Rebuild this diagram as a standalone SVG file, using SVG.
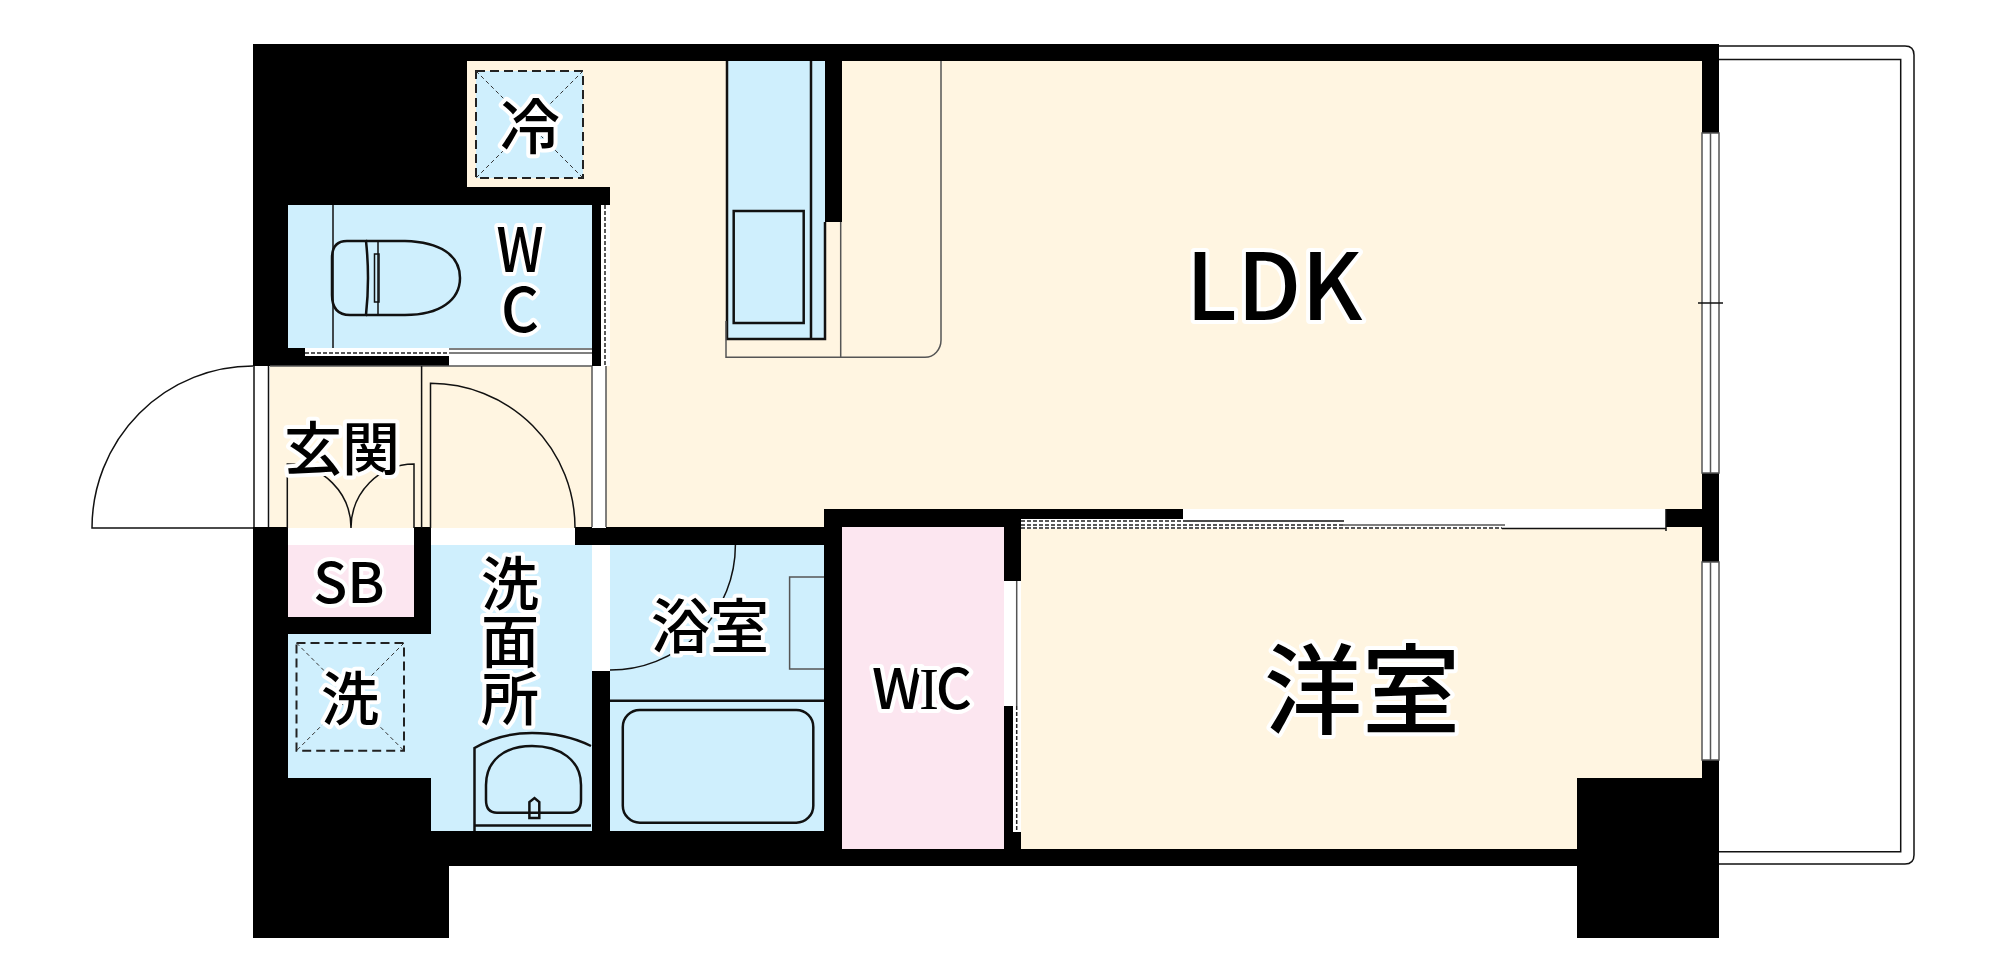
<svg xmlns="http://www.w3.org/2000/svg" width="1998" height="974" viewBox="0 0 1998 974">
<style>
.b{fill:#fff5e1}.c{fill:#cfeffd}.p{fill:#fce6f0}.k{fill:#000}.w{fill:#fff}
.l{fill:none;stroke:#111;stroke-width:1.5}
.g{fill:none;stroke:#555;stroke-width:1.5}
.m{fill:none;stroke:#111;stroke-width:2.5}
.d{fill:none;stroke:#222;stroke-width:2;stroke-dasharray:9 5}
.x{fill:none;stroke:#333;stroke-width:1;stroke-dasharray:4 3}
.f{fill:none;stroke:#222;stroke-width:1.5;stroke-dasharray:4 2}
text{font-family:"Noto Sans CJK JP","Noto Sans",sans-serif;font-weight:500;fill:#000;stroke:#fff;stroke-width:8;paint-order:stroke;stroke-linejoin:round;text-anchor:middle}
.t56{font-size:58px}
</style>
<rect width="1998" height="974" fill="#fff"/>
<g id="balcony">
<path class="l" d="M1719 46H1905Q1914 46 1914 55V855Q1914 864 1905 864H1719"/>
<path class="l" d="M1719 59.500H1900.700V851.700H1719"/>
</g>
<g id="floors">
<path class="b" d="M467 61H1702V527H610V366H592V187H467Z"/>
<rect class="b" x="270" y="366" width="340" height="162"/>
<rect class="b" x="1021" y="527" width="681" height="322"/>
<rect class="c" x="288" y="205" width="304" height="143"/>
<rect class="c" x="476" y="71" width="107" height="107"/>
<rect class="c" x="727" y="61" width="98" height="278"/>
<rect class="p" x="288" y="545" width="126" height="72"/>
<path class="c" d="M288 634H431V545H592V831H431V778H288Z"/>
<rect class="c" x="610" y="545" width="215" height="286"/>
<rect class="p" x="842" y="527" width="162" height="322"/>
</g>
<g id="walls">
<path class="k" d="M253 44H1719V527H1702V61H842V222H825V61H467V187H610V205H601V366H592V205H288V348H305V356H449V366H253Z"/>
<path class="k" d="M253 527H288V778H431V831H824V545H575V527H842V849H1004V527H1021V849H1577V778H1702V527H1666V509H1719V938H1577V866H449V938H253Z"/>
<rect class="k" x="824" y="509" width="359" height="18"/>
<rect class="k" x="414" y="527" width="17" height="107"/>
<rect class="k" x="288" y="617" width="143" height="17"/>
<rect class="k" x="592" y="671" width="18" height="160"/>
</g>
<g id="openings">
<rect class="w" x="254" y="366" width="15" height="161"/>
<rect class="w" x="592" y="366" width="14" height="162"/>
<rect class="w" x="601" y="205" width="9" height="161"/>
<rect class="w" x="449" y="349" width="143" height="17"/>
<rect class="w" x="305" y="348" width="144" height="8"/>
<rect class="w" x="288" y="529" width="126" height="14"/>
<rect class="w" x="431" y="529" width="144" height="14"/>
<rect class="w" x="593" y="545" width="15" height="126"/>
<rect class="w" x="1183" y="509" width="483" height="20"/>
<rect class="w" x="1021" y="519" width="162" height="10"/>
<rect class="w" x="1004" y="581" width="17" height="125"/>
<rect class="w" x="1013" y="706" width="8" height="126"/>
<path class="g" d="M1016.700 581V706"/>
<path class="f" stroke-width="2" d="M1016.700 706V832"/>
<g id="window-1"><rect class="w" x="1702" y="133" width="17" height="340"/><path class="g" d="M1702 133H1719V473H1702ZM1710.500 133V473"/><path class="l" d="M1698 303H1723"/></g>
<g id="window-2"><rect class="w" x="1702" y="562" width="17" height="198"/><path class="g" d="M1702 562H1719V760H1702ZM1710.500 562V760"/></g>
<path class="g" d="M449 349H592M449 353H592M592 366V527M606 366V527M270 366H592"/>
<path class="f" d="M605 205V366M305 353H449"/>
<path class="f" d="M1021 521H1183M1021 528H1502"/>
<path class="f" stroke-width="3" d="M1021 525H1343"/>
<path class="l" d="M1183 521H1344M1502 528.500H1666M1666 509V531"/>
<path class="g" stroke-width="3" d="M1343 525H1505"/>
</g>
<g id="fixtures">
<path class="l" d="M253 528H92A161 162 0 0 1 253 366M254 366V527M268.500 366V527"/>
<path class="l" d="M421.600 366V528M430.500 528V383.300A144.500 144.500 0 0 1 575 528"/>
<path class="l" d="M287.300 528V464A64 64 0 0 1 351 528M414 528V464A63 64 0 0 0 351 528"/>
<path class="l" d="M333 205V348"/>
<g id="toilet"><path class="m" d="M366 241H347Q332 241 332 258V295Q332 315 350 315H366Q370 278 366 241Z"/><path class="m" d="M366 241H405C440 242 460 255 460 278C460 300 440 315 405 315H366"/><path class="l" d="M378 241V315"/><rect class="l" x="374.500" y="254" width="4.500" height="48"/></g>
<rect id="fridge" class="d" x="476" y="71" width="107" height="107"/>
<path class="x" d="M476 71L583 178M583 71L476 178"/>
<g id="kitchen"><path class="m" d="M727 61V339H825V222"/><path class="m" d="M811 61V339"/><rect class="m" x="733.700" y="211" width="70" height="112" stroke="#234"/><path class="g" d="M726 321V357.300H925A16 17 0 0 0 941 340V61M840.700 222V357.300"/></g>
<rect id="washer" class="d" x="296.500" y="643" width="107.500" height="107.700"/>
<path class="x" d="M296.500 643L404 750.700M404 643L296.500 750.700"/>
<g id="sink"><path class="m" d="M474.500 831V748Q500 733 532 733Q565 733 591 746"/><path class="m" d="M474.500 825.500H591"/><path class="m" d="M486 800V785C486 760 505 746 532 746C560 746 581 760 581 785V800Q581 812.700 570 812.700H497Q486 812.700 486 800Z"/><path class="m" d="M529.400 818V802L534.500 798L539.300 802V818Z" fill="#fff"/></g>
<g id="bath"><path class="m" d="M610 700.700H824"/><rect class="m" x="622.800" y="710" width="190.500" height="112.700" rx="17"/><path class="l" d="M735.400 545A125 125 0 0 1 610 670"/><path class="g" d="M824 577H789.600V669H824"/></g>
</g>
<g id="labels">
<text x="530" y="149" font-size="60">冷</text>
<text x="520" y="272" font-size="61" textLength="47" lengthAdjust="spacingAndGlyphs">W</text>
<text x="520" y="332" font-size="61" textLength="38" lengthAdjust="spacingAndGlyphs">C</text>
<text x="342" y="470" class="t56">玄関</text>
<text x="349" y="603" font-size="56">SB</text>
<text x="510" y="605" class="t56">洗</text>
<text x="510" y="663" class="t56">面</text>
<text x="510" y="720" class="t56">所</text>
<text x="350" y="720" class="t56">洗</text>
<text x="710" y="648" font-size="59">浴室</text>
<text x="922" y="709" font-size="56" textLength="100">W<tspan font-family="Liberation Serif" font-size="60" font-weight="400">I</tspan>C</text>
<text x="1274" y="320" font-size="92" stroke-width="13">LDK</text>
<text x="1362" y="726" font-size="98" stroke-width="13">洋室</text>
</g>
</svg>
